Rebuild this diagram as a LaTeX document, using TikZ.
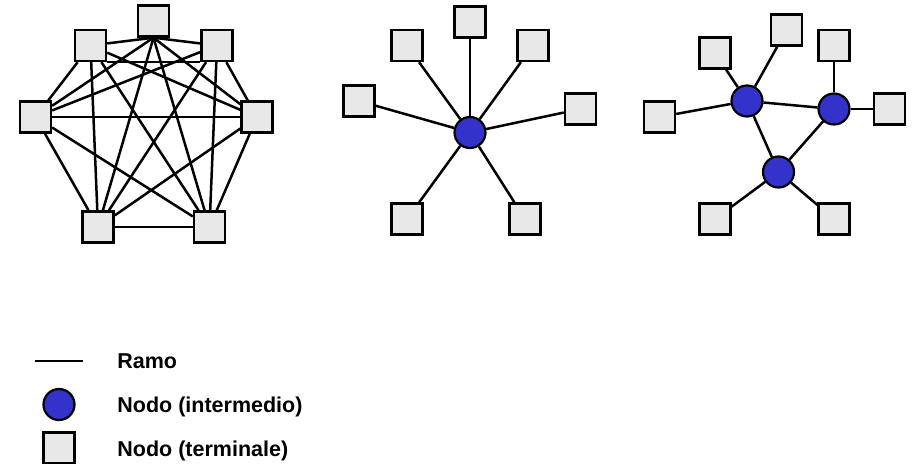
\documentclass[tikz,border=0pt]{standalone}
\usepackage{fontspec}
\setmainfont{Liberation Sans}
\usepackage{tikz}
\definecolor{hubblue}{RGB}{51,51,204}
\definecolor{termgray}{RGB}{232,232,232}

\begin{document}
\begin{tikzpicture}%
	[x=0.5pt, y=-0.5pt,
	edge/.style={draw=black, line width=1.25pt},
	terminal/.style={rectangle, draw=black, fill=termgray, line width=1.2pt, minimum size=15.5pt, inner sep=0pt},
	hub/.style={circle, draw=black, fill=hubblue, line width=1.1pt, minimum size=15.5pt, inner sep=0pt},
	legendtext/.style={anchor=base west, inner sep=0pt, font=\bfseries\fontsize{10.75}{13}\selectfont}]
%
\useasboundingbox (0,0) rectangle (915,464);
%%
%% Rete a maglia completa
%%
\node[terminal] (m1) at (153.5,21)   {};
\node[terminal] (m2) at (217,45.5)   {};
\node[terminal] (m3) at (257,117)    {};
\node[terminal] (m4) at (209.5,227)  {};
\node[terminal] (m5) at (98,227)     {};
\node[terminal] (m6) at (35.5,117)   {};
\node[terminal] (m7) at (90.5,45.5)  {};
%%
\draw[edge] (m1.south) -- (m2);
\draw[edge] (m1.south) -- (m3);
\draw[edge] (m1.south) -- (m4);
\draw[edge] (m1.south) -- (m5);
\draw[edge] (m1.south) -- (m6);
\draw[edge] (m1.south) -- (m7);
\draw[edge] (m2) -- (m3);
\draw[edge] (m2) -- (m4);
\draw[edge] (m2) -- (m5);
\draw[edge] (m2) -- (m6);
\draw[edge] (m2.south west) -- (m7.south east);
\draw[edge] (m3) -- (m4);
\draw[edge] (m3) -- (m5);
\draw[edge] (m3) -- (m6);
\draw[edge] (m3) -- (m7);
\draw[edge] (m4) -- (m5);
\draw[edge] (m4) -- (m6);
\draw[edge] (m4) -- (m7);
\draw[edge] (m5) -- (m6);
\draw[edge] (m5) -- (m7);
\draw[edge] (m6) -- (m7);
%%
%% Rete a stella
%%
\node[hub] (s0) at (470,132.5) {};
\node[terminal] (s1) at (470,22)    {};
\node[terminal] (s2) at (533,45.5)  {};
\node[terminal] (s3) at (580.5,109) {};
\node[terminal] (s4) at (525,219)   {};
\node[terminal] (s5) at (407,219)   {};
\node[terminal] (s6) at (359,101)   {};
\node[terminal] (s7) at (407,45.5)  {};
%%
\draw[edge] (s0) -- (s1);
\draw[edge] (s0) -- (s2);
\draw[edge] (s0) -- (s3);
\draw[edge] (s0) -- (s4);
\draw[edge] (s0) -- (s5);
\draw[edge] (s0) -- (s6);
\draw[edge] (s0) -- (s7);
%%
%% Rete a nodi intermedi
%%
\node[hub] (hA) at (747,101)   {};
\node[hub] (hB) at (834,109)   {};
\node[hub] (hC) at (778.5,172) {};
\node[terminal] (t1) at (659.5,117) {};
\node[terminal] (t2) at (715,53)    {};
\node[terminal] (t3) at (786.5,30)  {};
\node[terminal] (t4) at (834,45.5)  {};
\node[terminal] (t5) at (889.5,109) {};
\node[terminal] (t6) at (834,219)   {};
\node[terminal] (t7) at (715,219)   {};
%%
\draw[edge] (hA) -- (hB);
\draw[edge] (hA) -- (hC);
\draw[edge] (hB) -- (hC);
\draw[edge] (hA) -- (t1);
\draw[edge] (hA) -- (t2);
\draw[edge] (hA) -- (t3);
\draw[edge] (hB) -- (t4);
\draw[edge] (hB) -- (t5);
\draw[edge] (hC) -- (t6);
\draw[edge] (hC) -- (t7);
%%
%% Legenda
%%
\coordinate (r1) at (35,361);
\coordinate (r2) at (83,361);
\draw[edge] (r1) -- (r2);
\node[hub] (lh) at (59,404.5) {};
\node[terminal] (lt) at (59,448) {};
\node[legendtext] (ramo) at (117,369)   {Ramo};
\node[legendtext] (inter) at (117,412.5) {Nodo (intermedio)};
\node[legendtext] (termi) at (117,456.5) {Nodo (terminale)};
%%
\end{tikzpicture}
\end{document}
